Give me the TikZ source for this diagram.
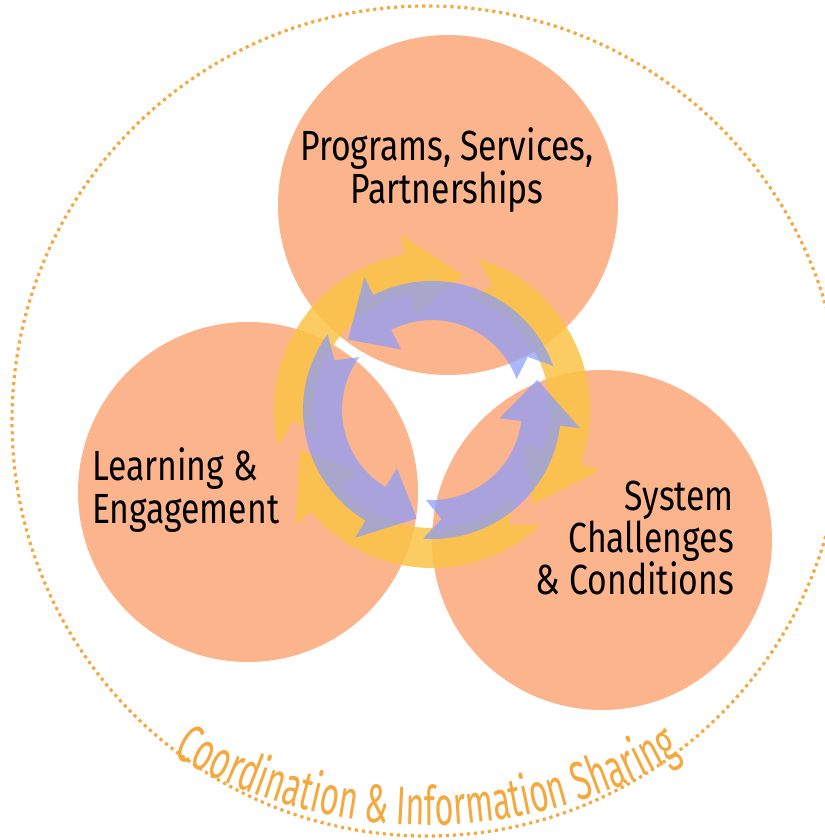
\documentclass[tikz,border=0pt]{standalone}
\usepackage{fontspec}
\usepackage{tikz}
\usetikzlibrary{calc,decorations.text}
\newfontfamily\labelfont[FakeStretch=0.8]{Fira Sans}
\newfontfamily\bandfont[FakeStretch=0.6]{Fira Sans}
\definecolor{circlefill}{RGB}{252,180,140}
\definecolor{ringyellow}{RGB}{250,195,70}
\definecolor{ringblue}{RGB}{134,155,255}
\definecolor{dotorange}{RGB}{245,168,62}
\def\ringarrow[#1](#2)(#3:#4:#5:#6){%
	\pgfmathsetmacro\arsgn{sign(#4-#3)}%
	\pgfmathsetmacro\arbase{#4-\arsgn*23}%
	\pgfmathsetmacro\arnotch{#3+\arsgn*9}%
	\pgfmathsetmacro\armid{(#5+#6)/2}%
	\pgfmathsetmacro\arout{#6+20}%
	\pgfmathsetmacro\arin{#5-22}%
	\fill[#1] ($(#2)+(\arnotch:\armid)$) -- ($(#2)+(#3:#6)$) arc (#3:\arbase:#6) -- ($(#2)+(\arbase:\arout)$) -- ($(#2)+(#4:\armid)$) -- ($(#2)+(\arbase:\arin)$) -- ($(#2)+(\arbase:#5)$) arc (\arbase:#3:#5) -- cycle;}

\begin{document}
\begin{tikzpicture}[x=0.02cm, y=0.02cm]
		%%%%% START %%%%%
		\useasboundingbox (0, 0) rectangle (825, 840);
		\clip (0, 0) rectangle (825, 840);
		
		\draw[line width=1.8pt, color=dotorange, dash pattern=on 1.8pt off 2.2pt] (427, 419) circle (415);
		
		\fill[circlefill] (448, 635) circle (170);
		\fill[circlefill] (248, 348) circle (170);
		\fill[circlefill] (602, 300) circle (170);
		
		\coordinate (hub) at (432, 430);
		
		\ringarrow[ringyellow, opacity=0.85](hub)(193:77:118:158);
		\ringarrow[ringyellow, opacity=0.85](hub)(73:-43:118:158);
		\ringarrow[ringyellow, opacity=0.85](hub)(-47:-163:118:158);
		
		\ringarrow[ringblue, opacity=0.7](hub)(20:140:90:129);
		\ringarrow[ringblue, opacity=0.7](hub)(144:262:90:129);
		\ringarrow[ringblue, opacity=0.7](hub)(266:376:90:129);
		
		\node[align=center, font=\labelfont\fontsize{24}{24}\selectfont] (programs) at (447, 670) {Programs, Services,\\Partnerships};
		\node[align=left, anchor=west, font=\labelfont\fontsize{24}{24}\selectfont] (learning) at (86, 350) {Learning \&\\Engagement};
		\node[align=right, anchor=east, font=\labelfont\fontsize{24}{24}\selectfont] (system) at (740, 302) {System\\Challenges\\\& Conditions};
		
		\coordinate (bandc) at (427, 515);
		\path[decorate, decoration={text along path, text align=center,
			text={|\bandfont\fontsize{31}{31}\selectfont\color{dotorange}|Coordination {\&} Information Sharing}}]
			($(bandc)+(232:500)$) arc (232:308:500);
		
		%%%%% END %%%%%
	\end{tikzpicture}
\end{document}
